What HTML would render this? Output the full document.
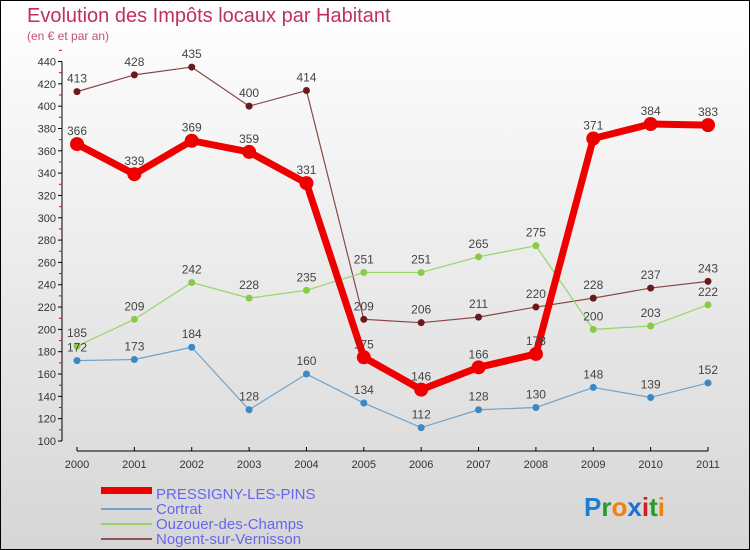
<!DOCTYPE html>
<html><head><meta charset="utf-8"><style>
body{margin:0;}
#c{position:relative;width:748px;height:548px;border:1px solid #000;background:linear-gradient(#ffffff,#d6d6d6);font-family:"Liberation Sans",sans-serif;overflow:hidden;}
svg text{font-family:"Liberation Sans",sans-serif;}
</style></head><body>
<div id="c">
<svg id="s" width="748" height="548">
<text x="26" y="21" font-size="20" fill="#c0305a">Evolution des Impôts locaux par Habitant</text>
<text x="26" y="39" font-size="12" fill="#c0507a">(en € et par an)</text>
<g id="axes"></g><g id="series"></g>
<g>
<rect x="100" y="486" width="51" height="7" fill="#e00"/>
<text x="155" y="498" font-size="15" fill="#6666ee">PRESSIGNY-LES-PINS</text>
<rect x="100" y="507" width="51" height="2" fill="#6fa3cc"/>
<text x="155" y="513" font-size="15" fill="#6666ee">Cortrat</text>
<rect x="100" y="522" width="51" height="2" fill="#99d466"/>
<text x="155" y="528" font-size="15" fill="#6666ee">Ouzouer-des-Champs</text>
<rect x="100" y="537" width="51" height="2" fill="#8a5555"/>
<text x="155" y="543" font-size="15" fill="#6666ee">Nogent-sur-Vernisson</text>
</g>
<text x="583" y="515" font-size="26" font-weight="bold"><tspan fill="#1a7fd0">P</tspan><tspan fill="#2a9a30">r</tspan><tspan fill="#f08010">o</tspan><tspan fill="#1a6fd0">x</tspan><tspan fill="#d02020">i</tspan><tspan fill="#2a9a30">t</tspan><tspan fill="#f08010">i</tspan></text>
</svg></div>
<script>
const years=[2000,2001,2002,2003,2004,2005,2006,2007,2008,2009,2010,2011];
const yTicks=[100,120,140,160,180,200,220,240,260,280,300,320,340,360,380,400,420,440];
const pressigny=[366,339,369,359,331,175,146,166,178,371,384,383];
const cortrat=[172,173,184,128,160,134,112,128,130,148,139,152];
const ouzouer=[185,209,242,228,235,251,251,265,275,200,203,222];
const nogent=[413,428,435,400,414,209,206,211,220,228,237,243];
const NS="http://www.w3.org/2000/svg";
function X(i){return 76+i*(707-76)/11;}
function Y(v){return 440-(v-100)*(379.5/340);}
function mk(t,a,p){const e=document.createElementNS(NS,t);for(const k in a)e.setAttribute(k,a[k]);p.appendChild(e);return e;}
const ax=document.getElementById('axes');
let l=mk('line',{x1:61,y1:Y(440),x2:61,y2:Y(100),stroke:'#000'},ax);


l=mk('line',{x1:76,y1:450,x2:707,y2:450,stroke:'#000'},ax);


yTicks.forEach(v=>{
 mk('line',{x1:57,y1:Y(v),x2:61,y2:Y(v),stroke:'#000'},ax);
 mk('line',{x1:58,y1:Y(v+10),x2:61,y2:Y(v+10),stroke:'#e00'},ax);
 const t=mk('text',{x:55,y:Y(v)+4,'font-size':11,fill:'#333','text-anchor':'end'},ax);t.textContent=v;
 
 
});
years.forEach((yr,i)=>{
 mk('line',{x1:X(i),y1:446,x2:X(i),y2:450,stroke:'#000'},ax);
 const t=mk('text',{x:X(i),y:467,'font-size':11,fill:'#333','text-anchor':'middle'},ax);t.textContent=yr;
 
 
});
const sg=document.getElementById('series');
function draw(vals,color,dot,w,r,name){
 const g=mk('g',{},sg);
 
 
 mk('polyline',{points:vals.map((v,i)=>X(i)+','+Y(v)).join(' '),fill:'none',stroke:color,'stroke-width':w,'stroke-linejoin':'round'},g);
 vals.forEach((v,i)=>{
  const c=mk('circle',{cx:X(i),cy:Y(v),r:r,fill:dot},g);
  
  
  const t=mk('text',{x:X(i),y:Y(v)-9,'font-size':12,fill:'#444','text-anchor':'middle'},g);t.textContent=v;
  
  
 });
}
draw(nogent,'#8a4848','#6a1a1a',1.2,3.5,'nogent');
draw(ouzouer,'#99d466','#88cc44',1.2,3.5,'ouzouer');
draw(cortrat,'#6fa3cc','#3a88c4',1.2,3.5,'cortrat');
draw(pressigny,'#ee0000','#ee0000',7,7,'pressigny');
</script>
</body></html>
